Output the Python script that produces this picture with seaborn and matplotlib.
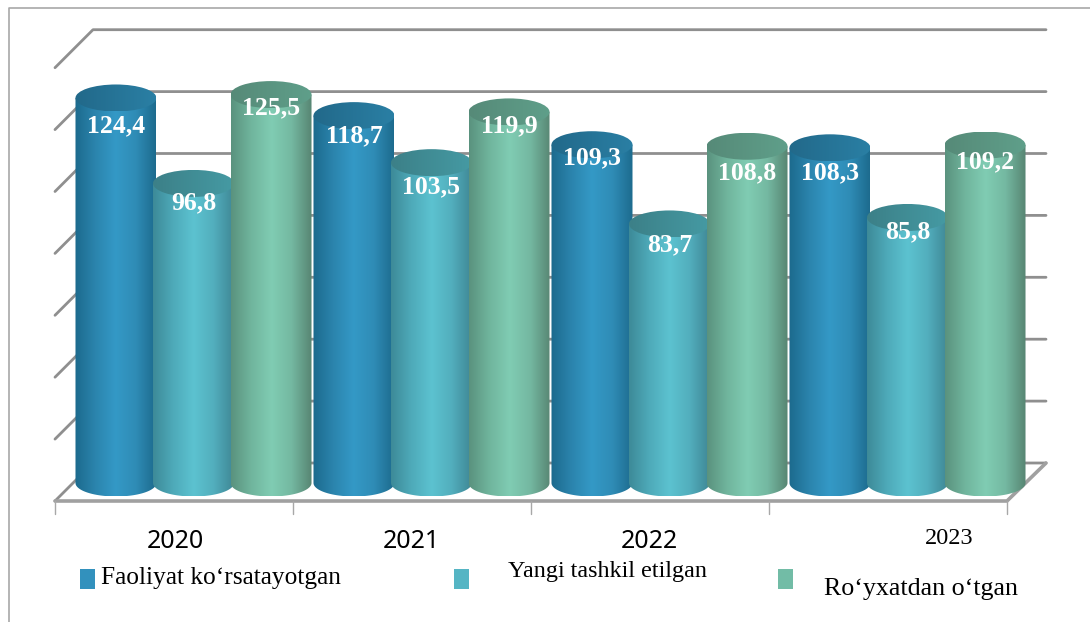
import numpy as np
import pandas as pd
import matplotlib
matplotlib.use('Agg')
import matplotlib.pyplot as plt
from matplotlib.colors import LinearSegmentedColormap
from matplotlib.patches import Ellipse, PathPatch, Rectangle
from matplotlib.path import Path
import seaborn as sns

# Chart values
years = ['2020', '2021', '2022', '2023']
faoliyat = [124.4, 118.7, 109.3, 108.3]
yangi = [96.8, 103.5, 83.7, 85.8]
royxat = [125.5, 119.9, 108.8, 109.2]
value_labels = ['124,4', '118,7', '109,3', '108,3',
                '96,8', '103,5', '83,7', '85,8',
                '125,5', '119,9', '108,8', '109,2']
series_names = ['Faoliyat ko\u2018rsatayotgan', 'Yangi tashkil etilgan', 'Ro\u2018yxatdan o\u2018tgan']
wall_ticks = [0, 20, 40, 60, 80, 100, 120, 140]

# Layout of the picture, in pixels
W, H = 1090, 622
X0, GROUP_W = 74.5, 238.0    # left edge of the first group, width of a group
Y0, PX_PER_UNIT = 483.0, 3.095  # height of value 0, pixels per value unit
BAR_W = 81.0
ELL_H = 27.0
label_drop = [27.5, 20.5, 13.5, 25.5, 19.5, 24.5, 20.5, 14.5, 13, 13.5, 26.5, 16.5]

def fx(px):
    return (px - X0) / GROUP_W - 0.5

def fy(py):
    return (Y0 - py) / PX_PER_UNIT

df = pd.DataFrame({
    'year': years * 3,
    'value': faoliyat + yangi + royxat,
    'series': np.repeat(series_names, 4),
})

body_colors = [['#1c6a8d', '#2b84ad', '#3499c6', '#2f8cb6', '#1d6b8e'],
               ['#3d8a98', '#4eaab9', '#5cc2d0', '#52aebd', '#3f8795'],
               ['#5a927e', '#70b59d', '#80ccb3', '#74b8a1', '#578572']]
top_colors = [['#22698a', '#2a7fa4'],
              ['#3c8088', '#459aa3'],
              ['#568a78', '#5f9f8a']]
legend_colors = ['#3291bd', '#55b5c4', '#72bca6']

sns.set_theme(style='white')
plt.rcParams['font.family'] = ['Liberation Serif', 'DejaVu Serif']

fig = plt.figure(figsize=(W / 100, H / 100), dpi=100)
ax = fig.add_axes([0, 0, 1, 1])

sns.barplot(data=df, x='year', y='value', hue='series', order=years, hue_order=series_names,
            palette=legend_colors, saturation=1, width=0.977, errorbar=None, legend=False,
            ax=ax, zorder=3)

# Turn the flat bars into cylinders
bars = [p for p in ax.patches if isinstance(p, Rectangle)]
half_w = BAR_W / GROUP_W / 2
half_h = ELL_H / PX_PER_UNIT / 2
theta = np.linspace(np.pi, 2 * np.pi, 60)
for i, bar in enumerate(bars):
    s = i // 4
    xc = bar.get_x() + bar.get_width() / 2
    top = bar.get_height()
    z = 3 + i * 0.1 + s * 0.5
    bar.set_visible(False)

    # body: straight sides and a rounded bottom
    xs = xc + half_w * np.cos(theta)
    ys = half_h * np.sin(theta)
    verts = np.vstack([[xc - half_w, top], np.column_stack([xs, ys]), [xc + half_w, top], [xc - half_w, top]])
    body = PathPatch(Path(verts), facecolor='none', edgecolor='none', zorder=z)
    ax.add_patch(body)
    cmap = LinearSegmentedColormap.from_list('body', body_colors[s])
    im = ax.imshow(np.linspace(0, 1, 256).reshape(1, -1), cmap=cmap, aspect='auto', interpolation='bilinear',
                   extent=[xc - half_w, xc + half_w, -half_h, top], zorder=z)
    im.set_clip_path(body)

    # lid
    lid = Ellipse((xc, top), 2 * half_w, 2 * half_h, facecolor='none', edgecolor='none', zorder=z + 0.01)
    ax.add_patch(lid)
    cmap = LinearSegmentedColormap.from_list('lid', top_colors[s])
    im = ax.imshow(np.linspace(0, 1, 64).reshape(1, -1), cmap=cmap, aspect='auto', interpolation='bilinear',
                   extent=[xc - half_w, xc + half_w, top - half_h, top + half_h], zorder=z + 0.01)
    im.set_clip_path(lid)

    ax.text(xc, top - label_drop[i] / PX_PER_UNIT, value_labels[i], color='white', fontsize=18.5, fontweight='bold',
            ha='center', va='center', zorder=20)

# Back wall, side wall and floor
grid = '#8f8f8f'
back_l, back_r, front_l, front_r = fx(93), fx(1046), fx(55), fx(1007)
back_dy = 20 / PX_PER_UNIT
front_dy = -18 / PX_PER_UNIT
for v in wall_ticks:
    ax.plot([front_l, back_l, back_r], [v + front_dy, v + back_dy, v + back_dy],
            color=grid, lw=2.0, solid_capstyle='round', zorder=1)
ax.plot([front_l, front_r, back_r], [front_dy, front_dy, back_dy], color='#a0a0a0', lw=2.6, zorder=1)
for k in range(5):
    ax.plot([fx(55 + k * GROUP_W)] * 2, [front_dy, fy(514)], color='#a8a8a8', lw=1.0, zorder=1)

# Frame of the picture
ax.plot([fx(9), fx(9), fx(1090)], [fy(622), fy(8), fy(8)], color='#a8a8a8', lw=1.2, zorder=1)

# Year labels sit off-centre in the source
ax.text(fx(175), fy(541), years[0], family=['Noto Sans'], fontsize=18, ha='center', va='center', color='black')
ax.text(fx(411), fy(541), years[1], family=['Noto Sans'], fontsize=18, ha='center', va='center', color='black')
ax.text(fx(649), fy(541), years[2], family=['Noto Sans'], fontsize=18, ha='center', va='center', color='black')
ax.text(fx(949), fy(538), years[3], fontsize=17.5, ha='center', va='center', color='black')

# Legend
for name, color, box_x, text_x, text_y, size in zip(series_names, legend_colors, [80, 454, 778], [101, 508, 824],
                                                    [578, 572, 589], [18.3, 17.4, 18.7]):
    ax.add_patch(Rectangle((fx(box_x), fy(589)), 15 / GROUP_W, 20 / PX_PER_UNIT, facecolor=color, edgecolor='none'))
    ax.text(fx(text_x), fy(text_y), name, fontsize=size, ha='left', va='center', color='black')

ax.set_xlim(fx(0), fx(W))
ax.set_ylim(fy(H), fy(0))
ax.set_axis_off()

plt.savefig('out.png', dpi=100)
